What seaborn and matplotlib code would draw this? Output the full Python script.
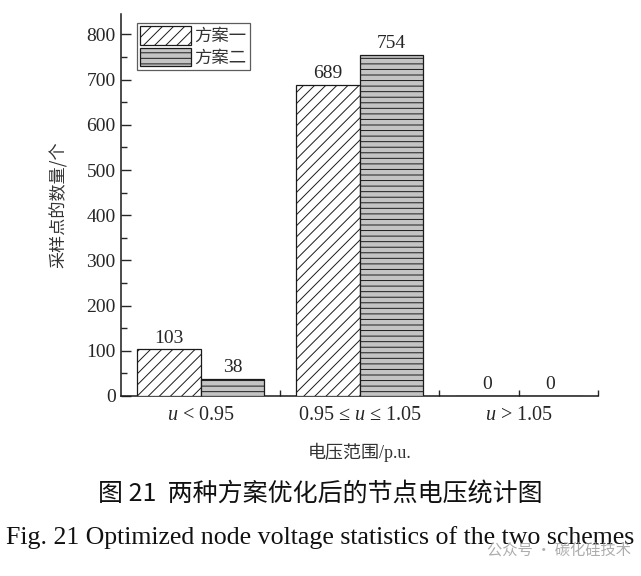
import pandas as pd
import numpy as np
import seaborn as sns
import matplotlib.pyplot as plt
from matplotlib.ticker import MultipleLocator, FixedLocator

ranges = ['$u$ < 0.95', '0.95 ≤ $u$ ≤ 1.05', '$u$ > 1.05']
schemes = ['方案一', '方案二']
scheme1 = [103, 689, 0]
scheme2 = [38, 754, 0]

df = pd.DataFrame({
    'range': ranges * 2,
    'scheme': [schemes[0]] * 3 + [schemes[1]] * 3,
    'count': scheme1 + scheme2,
})

sns.set_theme(style='ticks')
plt.rcParams['font.family'] = ['Liberation Serif', 'Noto Sans CJK SC']
plt.rcParams['mathtext.fontset'] = 'custom'
plt.rcParams['mathtext.it'] = 'Liberation Serif:italic'
plt.rcParams['mathtext.rm'] = 'Liberation Serif'
plt.rcParams['hatch.linewidth'] = 0.7

fig = plt.figure(figsize=(6.41, 5.76), dpi=100)
ax = fig.add_axes([0.189, 0.3125, 0.744, 0.663])

sns.barplot(data=df, x='range', y='count', hue='scheme', ax=ax,
            palette=['white', '#c4c4c4'], edgecolor='#1a1a1a', linewidth=0.9,
            width=0.8, zorder=3)

hatches = ['///', '---']
for cont, h in zip(ax.containers, hatches):
    for p in cont.patches:
        p.set_hatch(h)
    ax.bar_label(cont, fmt='%d', padding=2, fontsize=14, family='Liberation Serif')

ax.set_xlim(-0.5, 2.5)
ax.set_ylim(0, 845)
ax.yaxis.set_major_locator(MultipleLocator(100))
ax.yaxis.set_minor_locator(MultipleLocator(50))
ax.xaxis.set_minor_locator(FixedLocator([0.5, 1.5, 2.5]))
ax.tick_params(axis='y', which='major', direction='in', length=7, width=1, labelsize=14, pad=4)
ax.tick_params(axis='y', which='minor', direction='in', length=4, width=1)
ax.tick_params(axis='x', which='both', direction='in', length=4, width=1, labelsize=14.5, pad=7)
for s in ['top', 'right']:
    ax.spines[s].set_visible(False)
for s in ['left', 'bottom']:
    ax.spines[s].set_linewidth(1.1)
    ax.spines[s].set_color('#1a1a1a')

ax.set_ylabel('采样点的数量/个', family=['Noto Sans CJK SC'], fontsize=12.3, labelpad=13, color='#333333')
ax.set_xlabel('电压范围/p.u.', family=['Liberation Serif', 'Noto Sans CJK SC'], fontsize=13, labelpad=13, color='#333333')

leg = ax.legend(handles=list(ax.containers), labels=schemes, loc='upper left',
                bbox_to_anchor=(0.015, 1.0), frameon=True, fancybox=False,
                edgecolor='#333333', handlelength=2.9, handleheight=1.25,
                handletextpad=0.2, borderpad=0.2, labelspacing=0.15,
                prop={'family': 'Noto Sans CJK SC', 'size': 12.5})
leg.get_frame().set_linewidth(0.9)
for t in leg.get_texts():
    t.set_color('#333333')

fig.text(0.5, 0.143, '图 21  两种方案优化后的节点电压统计图', ha='center', va='center',
         family=['Noto Sans CJK SC'], fontsize=18, color='#111111')
fig.text(0.5, 0.066, 'Fig. 21 Optimized node voltage statistics of the two schemes', ha='center', va='center',
         family=['Liberation Serif'], fontsize=18.6, color='#111111')
fig.text(0.985, 0.045, '公众号 · 碳化硅技术', ha='right', va='center',
         family=['Noto Sans CJK SC'], fontsize=11, color='#999999', alpha=0.8)

fig.savefig('out.png', dpi=100)
